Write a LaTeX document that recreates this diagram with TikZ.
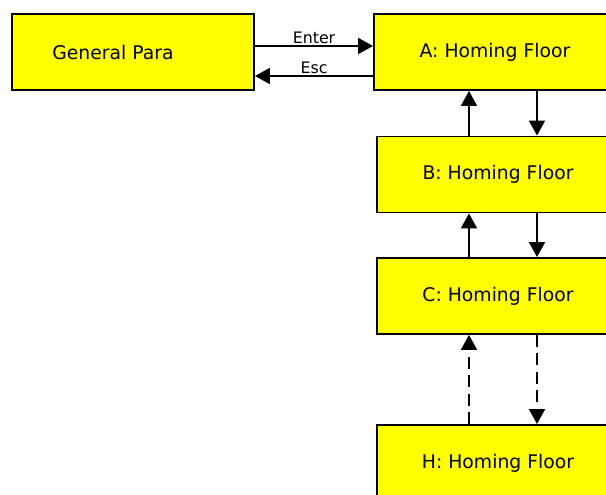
\documentclass[tikz,border=0pt]{standalone}
\usepackage{fontspec}
\setmainfont{DejaVu Sans}
\usetikzlibrary{arrows.meta}
\definecolor{floorfill}{RGB}{255,255,0}
\tikzset{
  menubox/.style={draw, line width=1.1pt, fill=floorfill, minimum width=4.84cm, minimum height=1.52cm, inner sep=0pt, font=\fontsize{10.7}{13}\selectfont},
  link/.style={line width=1.1pt, -{Triangle[length=3mm,width=3.2mm]}},
  keylabel/.style={above, inner sep=0.5pt, font=\fontsize{9}{11}\selectfont},
}
\begin{document}
\begin{tikzpicture}
\clip (0,0) rectangle (12.12,-9.9);
% menu boxes
\node[menubox, label={[xshift=-0.4cm, font=\fontsize{10.7}{13}\selectfont]center:General Para}] (gp) at (2.66,-1.04) {};
\node[menubox] (a) at (9.9,-1.04) {A: Homing Floor};
\node[menubox] (b) at (9.96,-3.49) {B: Homing Floor};
\node[menubox] (c) at (9.96,-5.92) {C: Homing Floor};
\node[menubox] (h) at (9.96,-9.26) {H: Homing Floor};
\coordinate (up) at (9.38,0);
\coordinate (dn) at (10.74,0);
% enter / esc
\draw[link] ([yshift=0.12cm]gp.east) -- ([yshift=0.12cm]gp.east -| a.west) node[keylabel, midway] {Enter};
\draw[link] ([yshift=-0.48cm]a.west) -- ([yshift=-0.48cm]a.west -| gp.east) node[keylabel, midway] {Esc};
% up and down
\draw[link] (b.north -| up) -- (a.south -| up);
\draw[link] (a.south -| dn) -- (b.north -| dn);
\draw[link] (c.north -| up) -- (b.south -| up);
\draw[link] (b.south -| dn) -- (c.north -| dn);
\draw[link, dash pattern=on 0.24cm off 0.13cm] (h.north -| up) -- (c.south -| up);
\draw[link, dash pattern=on 0.24cm off 0.13cm] (c.south -| dn) -- (h.north -| dn);
\end{tikzpicture}
\end{document}
